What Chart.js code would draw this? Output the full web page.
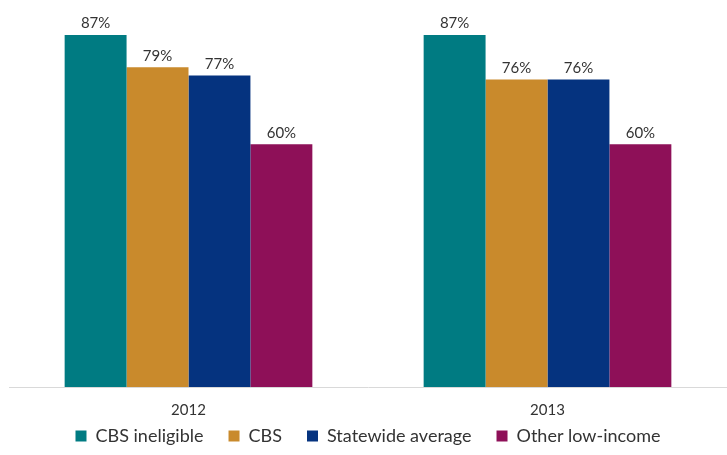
<!DOCTYPE html>
<html>
<head>
<script src="https://cdn.jsdelivr.net/npm/chart.js@4"></script>
<style>
  body { margin: 0; background: #fff; }
  #wrap { width: 727px; height: 455px; }
</style>
</head>
<body>
<div id="wrap"><canvas id="chart"></canvas></div>
<script>
const years = ["2012", "2013"]
const seriesNames = ["CBS ineligible", "CBS", "Statewide average", "Other low-income"]
const seriesColors = ["#007B82", "#C98A2C", "#05337F", "#8E1058"]
const cbsIneligible = [87, 87]
const cbs = [79, 76]
const statewide = [77, 76]
const otherLowIncome = [60, 60]

const values = [cbsIneligible, cbs, statewide, otherLowIncome]

// draws the percent labels above each bar
const barLabels = {
  id: "barLabels",
  afterDatasetsDraw(chart) {
    const ctx = chart.ctx
    ctx.save()
    ctx.font = "15px Lato"
    ctx.fillStyle = "#333"
    ctx.textAlign = "center"
    ctx.textBaseline = "bottom"
    chart.data.datasets.forEach((ds, i) => {
      chart.getDatasetMeta(i).data.forEach((bar, j) => {
        ctx.fillText(ds.data[j] + "%", bar.x, bar.y - 4)
      })
    })
    ctx.restore()
  },
}

new Chart(document.getElementById("chart"), {
  type: "bar",
  data: {
    labels: years,
    datasets: seriesNames.map((name, i) => ({
      label: name,
      data: values[i],
      backgroundColor: seriesColors[i],
      categoryPercentage: 0.69,
      barPercentage: 1,
    })),
  },
  options: {
    responsive: true,
    maintainAspectRatio: false,
    animation: false,
    layout: { padding: { top: 35, left: 9, right: 0, bottom: 0 } },
    scales: {
      x: {
        grid: { display: false },
        border: { color: "#d9d9d9" },
        ticks: { color: "#333", padding: 6, font: { family: "Lato", size: 15 } },
      },
      y: {
        display: false,
        min: 0,
        max: 87,
      },
    },
    plugins: {
      legend: {
        position: "bottom",
        labels: {
          color: "#333",
          font: { family: "Lato", size: 18 },
          boxWidth: 11,
          boxHeight: 11,
          padding: 2,
          // extra room between legend items without a taller legend row
          generateLabels(chart) {
            return Chart.defaults.plugins.legend.labels.generateLabels(chart).map((item, i, arr) => {
              if (i < arr.length - 1) item.text += "     "
              return item
            })
          },
        },
      },
      tooltip: { enabled: false },
    },
  },
  plugins: [barLabels],
})
</script>
</body>
</html>
